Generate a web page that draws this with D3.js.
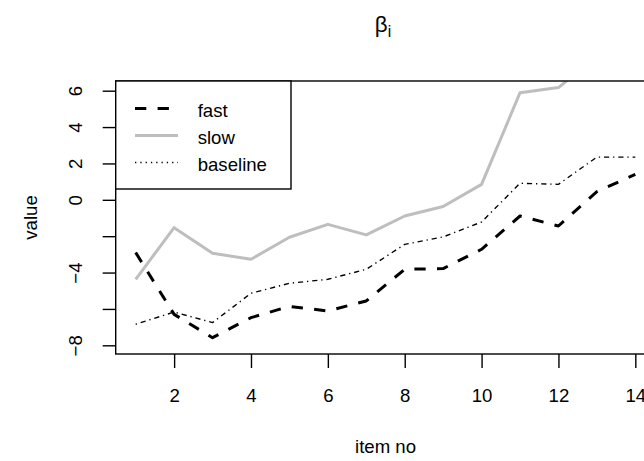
<!DOCTYPE html>
<html>
<head>
<meta charset="utf-8">
<script src="https://cdn.jsdelivr.net/npm/d3@7"></script>
<style>
  html, body { margin: 0; padding: 0; background: #ffffff; }
  svg { display: block; font-family: "Liberation Sans", Arial, Helvetica, sans-serif; }
</style>
</head>
<body>
<svg id="chart" width="644" height="461"></svg>
<script>
// ---- data ----
const items = [1, 2, 3, 4, 5, 6, 7, 8, 9, 10, 11, 12, 13, 14];
const fast = [-2.9, -6.3, -7.58, -6.48, -5.86, -6.11, -5.56, -3.82, -3.78, -2.72, -0.89, -1.44, 0.45, 1.40];
const slow = [-4.37, -1.53, -2.94, -3.27, -2.06, -1.35, -1.93, -0.89, -0.37, 0.85, 5.89, 6.17, 7.9, 8.3];
const baseline = [-6.84, -6.17, -6.75, -5.14, -4.59, -4.37, -3.82, -2.45, -2.04, -1.22, 0.91, 0.85, 2.35, 2.35];
const xTicks = [2, 4, 6, 8, 10, 12, 14];
const yTicks = [-8, -6, -4, -2, 0, 2, 4, 6];
const yTickLabels = [-8, -4, 0, 2, 4, 6];
const seriesNames = ["fast", "slow", "baseline"];
const xDomain = [0.48, 14.52];
const yDomain = [-8.478, 6.533];

// ---- layout ----
const plot = { left: 115.7, right: 655.3, top: 81, bottom: 354 };
const fs = 18.6;

const svg = d3.select("#chart");
const x = d3.scaleLinear().domain(xDomain).range([plot.left, plot.right]);
const y = d3.scaleLinear().domain(yDomain).range([plot.bottom, plot.top]);

const fmt = v => (v < 0 ? "\u2212" + Math.abs(v) : String(v));

svg.append("defs").append("clipPath").attr("id", "plotclip")
  .append("rect")
  .attr("x", plot.left).attr("y", plot.top)
  .attr("width", plot.right - plot.left).attr("height", plot.bottom - plot.top);

// ---- series lines ----
const line = d3.line().x((d, i) => x(items[i])).y(d => y(d));
const styles = {
  fast: { color: "#000000", width: 3, dash: "11.3,11.3" },
  slow: { color: "#BEBEBE", width: 3, dash: null },
  baseline: { color: "#000000", width: 1.4, dash: "1.3,3.9,5.2,3.9" }
};
const data = { fast, slow, baseline };
const gLines = svg.append("g").attr("clip-path", "url(#plotclip)");
["slow", "baseline", "fast"].forEach(name => {
  const s = styles[name];
  gLines.append("path")
    .datum(data[name])
    .attr("d", line)
    .attr("fill", "none")
    .attr("stroke", s.color)
    .attr("stroke-width", s.width)
    .attr("stroke-linejoin", "round")
    .attr("stroke-linecap", "butt")
    .attr("stroke-dasharray", s.dash);
});

// ---- box ----
svg.append("rect")
  .attr("x", plot.left).attr("y", plot.top)
  .attr("width", plot.right - plot.left).attr("height", plot.bottom - plot.top)
  .attr("fill", "none").attr("stroke", "#000").attr("stroke-width", 1.4);

// ---- axes ----
const xAxis = svg.append("g")
  .attr("transform", `translate(0,${plot.bottom})`)
  .call(d3.axisBottom(x).tickValues(xTicks).tickSize(14).tickSizeOuter(0).tickFormat(fmt));
xAxis.select(".domain").remove();
xAxis.selectAll(".tick line").attr("stroke", "#000").attr("stroke-width", 1.4);
xAxis.selectAll(".tick text")
  .attr("y", 48).attr("dy", 0)
  .attr("fill", "#000")
  .style("font-size", fs + "px")
  .style("font-family", "Liberation Sans, Arial, sans-serif");

const yAxis = svg.append("g")
  .attr("transform", `translate(${plot.left},0)`)
  .call(d3.axisLeft(y).tickValues(yTicks).tickSize(13).tickSizeOuter(0)
    .tickFormat(v => (yTickLabels.includes(v) ? fmt(v) : "")));
yAxis.select(".domain").remove();
yAxis.selectAll(".tick line").attr("stroke", "#000").attr("stroke-width", 1.4);
yAxis.selectAll(".tick text")
  .attr("x", 0).attr("y", 0).attr("dy", 0)
  .attr("transform", "translate(-33.7,0) rotate(-90)")
  .attr("text-anchor", "middle")
  .attr("fill", "#000")
  .style("font-size", fs + "px")
  .style("font-family", "Liberation Sans, Arial, sans-serif");

// ---- axis titles ----
svg.append("text")
  .attr("x", (plot.left + plot.right) / 2).attr("y", 453)
  .attr("text-anchor", "middle")
  .style("font-size", fs + "px")
  .text("item no");

svg.append("text")
  .attr("transform", `translate(37,${(plot.top + plot.bottom) / 2}) rotate(-90)`)
  .attr("text-anchor", "middle")
  .style("font-size", fs + "px")
  .text("value");

// ---- title: beta_i ----
const title = svg.append("text")
  .attr("x", 383).attr("y", 32)
  .attr("text-anchor", "middle")
  .style("font-size", "22.3px");
title.append("tspan").text("\u03B2");
title.append("tspan").attr("dy", 5).style("font-size", "15.6px").text("i");

// ---- legend ----
const legend = svg.append("g");
legend.append("rect")
  .attr("x", plot.left).attr("y", plot.top)
  .attr("width", 175.3).attr("height", 108)
  .attr("fill", "#fff").attr("stroke", "#000").attr("stroke-width", 1.4);
const legRowY = d3.scalePoint().domain(seriesNames).range([108.5, 162.5]);
const legStyles = {
  fast: styles.fast,
  slow: styles.slow,
  baseline: { color: "#000000", width: 1.4, dash: "1.3,4" }
};
seriesNames.forEach(name => {
  const s = legStyles[name];
  const yy = legRowY(name);
  legend.append("line")
    .attr("x1", 135).attr("x2", 178)
    .attr("y1", yy).attr("y2", yy)
    .attr("stroke", s.color).attr("stroke-width", s.width)
    .attr("stroke-dasharray", s.dash);
  legend.append("text")
    .attr("x", 197.7).attr("y", yy + 8.7)
    .style("font-size", fs + "px")
    .text(name);
});
</script>
</body>
</html>
